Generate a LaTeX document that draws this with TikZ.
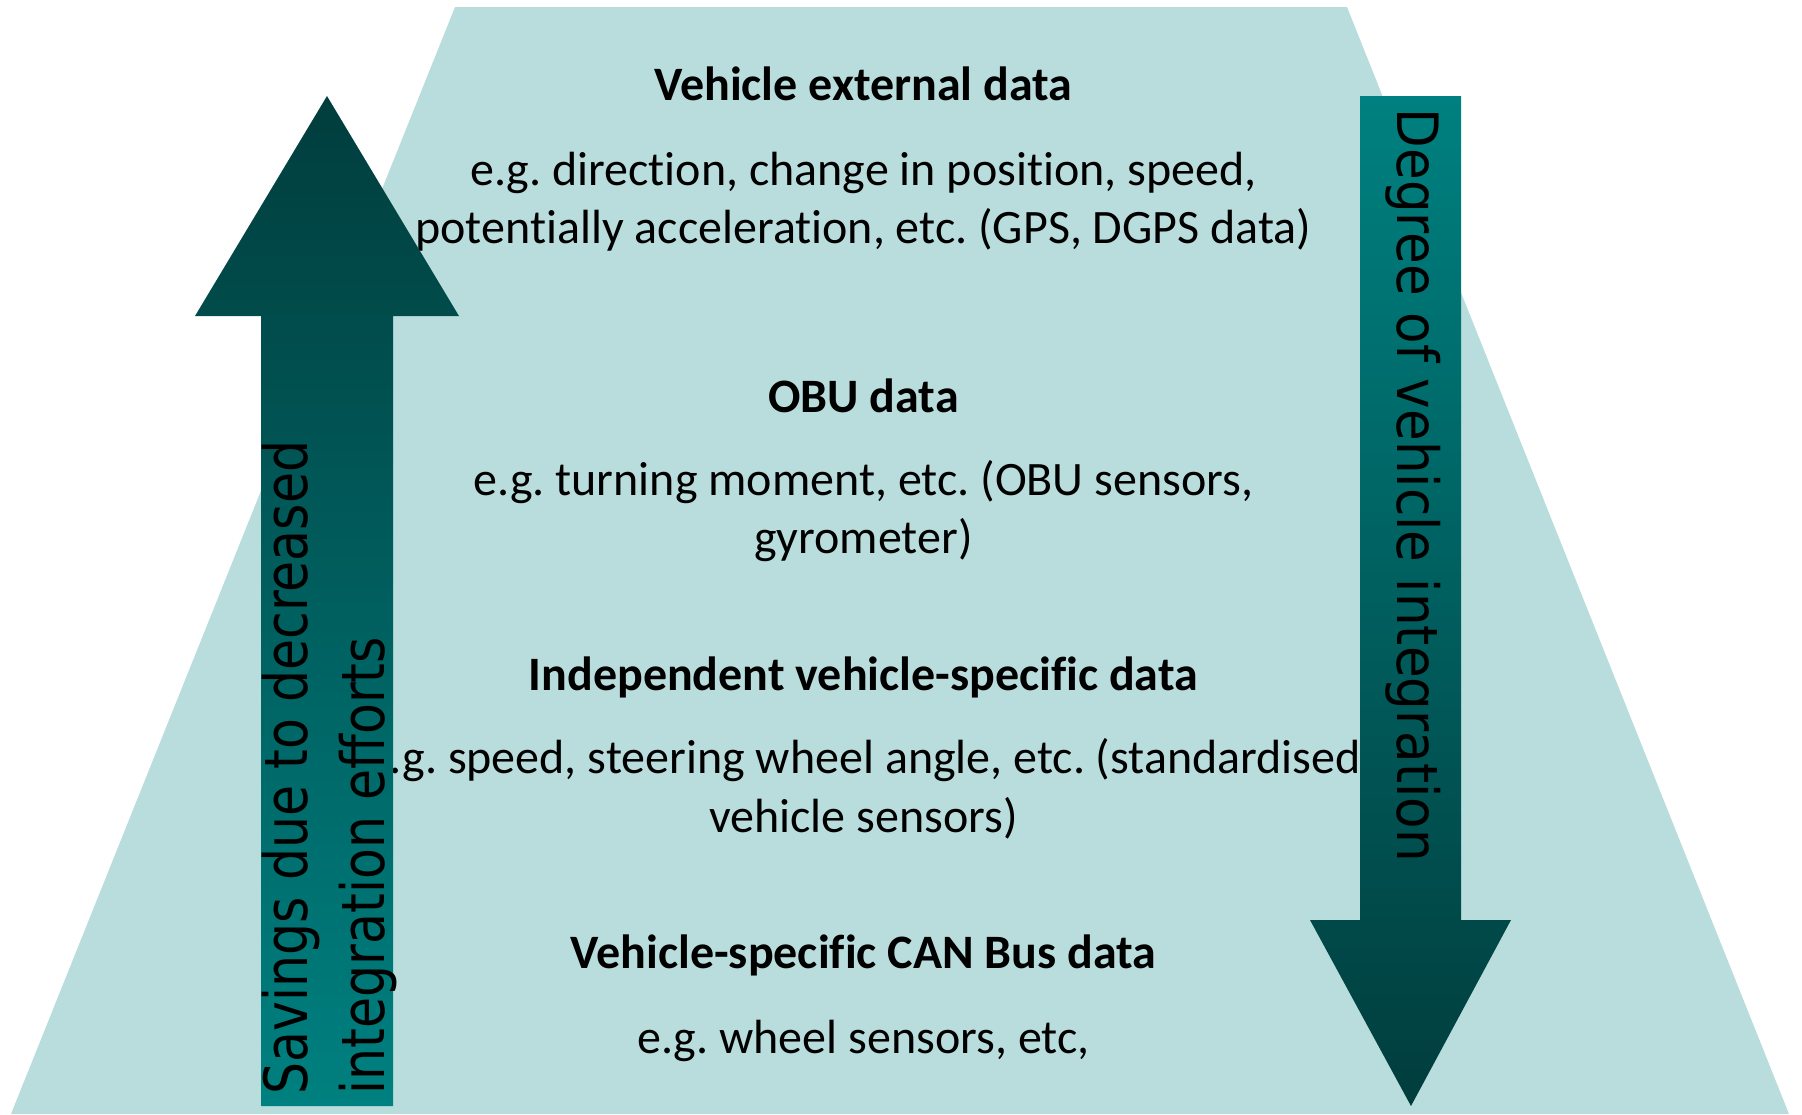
\documentclass[tikz,border=0pt]{standalone}
\usepackage{fontspec}
\setmainfont{Carlito}[Ligatures=NoCommon]
\newfontfamily\rotfontL[FakeStretch=0.845]{DejaVu Sans}
\newfontfamily\rotfontR[FakeStretch=0.905]{DejaVu Sans}
\definecolor{bgteal}{HTML}{B9DDDD}
\definecolor{darkteal}{HTML}{013D3D}
\definecolor{midteal}{HTML}{008080}
\tikzset{
  body/.style={anchor=base, inner sep=0pt, font=\fontsize{13.65}{16.5}\selectfont},
  head/.style={anchor=base, inner sep=0pt, font=\fontsize{13.65}{16.5}\selectfont\bfseries},
  rotlabL/.style={anchor=base west, inner sep=0pt, rotate=90, font=\rotfontL\fontsize{17}{20}\selectfont},
  rotlabR/.style={anchor=base west, inner sep=0pt, rotate=-90, font=\rotfontR\fontsize{16.2}{20}\selectfont},
}
\frenchspacing
\begin{document}
\begin{tikzpicture}[x=0.01cm,y=-0.01cm]
\useasboundingbox (0,0) rectangle (1802,1114);
% trapezoid background
\fill[bgteal] (455,7) -- (1347,7) -- (1789,1114) -- (11,1114) -- cycle;
% texts
\def\cx{863.4}
\node[head] (h1) at (\cx,100) {Vehicle external data};
\node[body] (t1a) at (\cx,185) {e.g. direction, change in position, speed,};
\node[body] (t1b) at (\cx,243) {potentially acceleration, etc. (GPS, DGPS data)};
\node[head] (h2) at (\cx,412.5) {OBU data};
\node[body] (t2a) at (\cx,495.5) {e.g. turning moment, etc. (OBU sensors,};
\node[body] (t2b) at (\cx,553.5) {gyrometer)};
\node[head] (h3) at (\cx,690) {Independent vehicle-specific data};
\node[body] (t3a) at (\cx,773) {e.g. speed, steering wheel angle, etc. (standardised};
\node[body] (t3b) at (\cx,832) {vehicle sensors)};
\node[head] (h4) at (\cx,968.5) {Vehicle-specific CAN Bus data};
\node[body] (t4a) at (\cx,1053.5) {e.g. wheel sensors, etc,};
% left arrow (up)
\shade[top color=darkteal, bottom color=midteal]
  (327,96) -- (459,316) -- (393,316) -- (393,1106) -- (261,1106) -- (261,316) -- (195,316) -- cycle;
% right arrow (down)
\shade[top color=midteal, bottom color=darkteal]
  (1360,96) -- (1461,96) -- (1461,920) -- (1511,920) -- (1411,1106) -- (1310,920) -- (1360,920) -- cycle;
% arrow labels
\node[rotlabL] (l1) at (307,1095) {Savings due to decreased};
\node[rotlabL] (l2) at (384,1095) {integration efforts};
\node[rotlabR] (r1) at (1397,108) {Degree of vehicle integration};
\end{tikzpicture}
\end{document}
